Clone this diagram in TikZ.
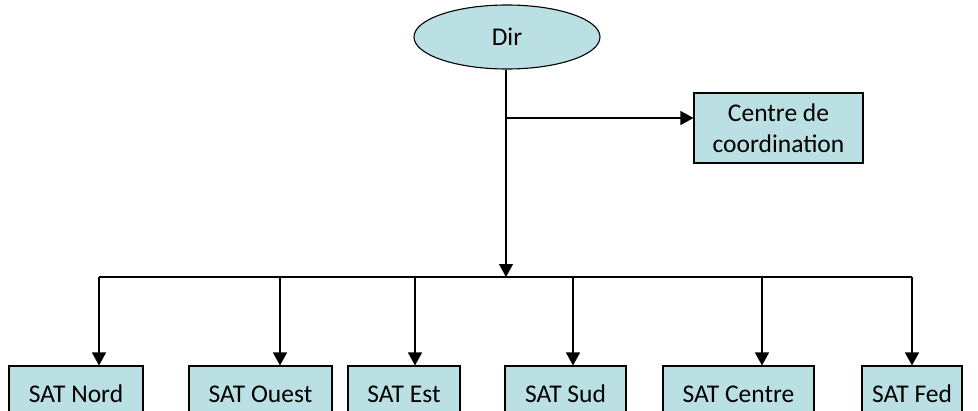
\documentclass[tikz,border=0pt]{standalone}
\usepackage{fontspec}
\setmainfont{Carlito}
\usetikzlibrary{arrows.meta,shapes.geometric}
\definecolor{boxfill}{RGB}{187,224,227}
\begin{document}
\begin{tikzpicture}[x=1pt,y=-1pt,
  txt/.style={font=\fontsize{25.5pt}{31pt}\selectfont},
  unit/.style={txt, draw, line width=1.1pt, fill=boxfill, inner sep=0pt, minimum height=56pt},
  link/.style={line width=1.2pt},
  arr/.style={line width=1.2pt, -{Triangle[length=13pt,width=14pt]}}]
\useasboundingbox (0,0) rectangle (978,410);
\clip (0,0) rectangle (978,410);
\node[txt, ellipse, draw, line width=1.1pt, fill=boxfill, minimum width=186pt, minimum height=64pt, inner sep=0pt] (dir) at (507,37) {Dir};
\node[unit, minimum width=169pt, minimum height=70pt, align=center] (cdc) at (778.5,128) {Centre de\\coordination};
\coordinate (bus) at (506,277);
\coordinate (branch) at (506,118);
\node[unit, minimum width=134pt] (nord) at (76,394) {SAT Nord};
\node[unit, minimum width=143pt] (ouest) at (260.5,394) {SAT Ouest};
\node[unit, minimum width=112pt] (est) at (404,394) {SAT Est};
\node[unit, minimum width=121pt] (sud) at (565.5,394) {SAT Sud};
\node[unit, minimum width=151pt] (centre) at (738.5,394) {SAT Centre};
\node[unit, minimum width=100pt] (fed) at (912,394) {SAT Fed};
\draw[arr] (dir.south -| bus) -- (bus);
\draw[arr] (branch) -- (cdc.west |- branch);
\draw[link] (99,277) coordinate (busl) -- (912,277) coordinate (busr);
\draw[arr] (busl) -- (busl |- nord.north);
\draw[arr] (280,277) coordinate (b2) -- (b2 |- ouest.north);
\draw[arr] (415,277) coordinate (b3) -- (b3 |- est.north);
\draw[arr] (573,277) coordinate (b4) -- (b4 |- sud.north);
\draw[arr] (762,277) coordinate (b5) -- (b5 |- centre.north);
\draw[arr] (busr) -- (busr |- fed.north);
\end{tikzpicture}
\end{document}
